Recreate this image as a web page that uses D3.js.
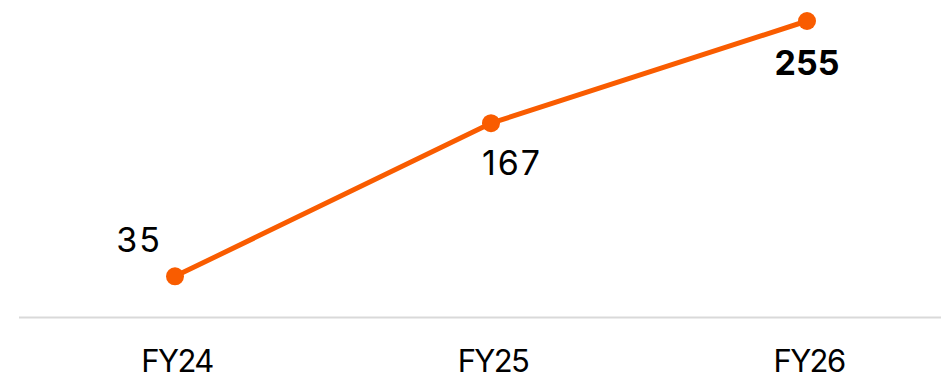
<!DOCTYPE html>
<html>
<head>
<meta charset="utf-8">
<script src="https://cdn.jsdelivr.net/npm/d3@7"></script>
<style>
  html, body { margin: 0; padding: 0; background: #fff; }
  svg { display: block; }
</style>
</head>
<body>
<svg id="chart" width="941" height="374"></svg>
<script>
// Fiscal years and values
const categories = ["FY24", "FY25", "FY26"];
const values = [35, 167, 255];
// Which value label is emphasised
const highlight = [false, false, true];

const width = 941, height = 374;
const orange = "#f95c00";
const font = "Inter, 'Noto Sans', sans-serif";

const svg = d3.select("#chart");

const x = d3.scalePoint()
  .domain(categories)
  .range([175, 807]);

const y = d3.scaleLinear()
  .domain([0, 255])
  .range([317, 21]);

// baseline
svg.append("line")
  .attr("x1", 19).attr("x2", width)
  .attr("y1", y(0) + 0.5).attr("y2", y(0) + 0.5)
  .attr("stroke", "#d9d9d9")
  .attr("stroke-width", 2);

// category labels
const xAxis = d3.axisBottom(x).tickSize(0).tickPadding(0);
const gx = svg.append("g")
  .attr("transform", `translate(0,${y(0)})`)
  .call(xAxis);
gx.select(".domain").remove();
gx.selectAll("text")
  .attr("dy", null)
  .attr("x", 1.5)
  .attr("y", 55)
  .attr("fill", "#000")
  .style("font-family", font)
  .style("font-size", "31px")
  .style("letter-spacing", "-1.6px");

// line
const data = categories.map((c, i) => ({ c, v: values[i], bold: highlight[i] }));
const line = d3.line().x(d => x(d.c)).y(d => y(d.v));

svg.append("path")
  .datum(data)
  .attr("d", line)
  .attr("fill", "none")
  .attr("stroke", orange)
  .attr("stroke-width", 5)
  .attr("stroke-linejoin", "round");

svg.selectAll("circle.pt")
  .data(data)
  .join("circle")
  .attr("class", "pt")
  .attr("cx", d => x(d.c))
  .attr("cy", d => y(d.v))
  .attr("r", 9)
  .attr("fill", orange);

// value labels, placed to stay clear of the line
const offsets = [[-36, -24], [21, 51.5], [0, 53.7]];
svg.selectAll("text.val")
  .data(data)
  .join("text")
  .attr("class", "val")
  .attr("x", (d, i) => x(d.c) + offsets[i][0])
  .attr("y", (d, i) => y(d.v) + offsets[i][1])
  .attr("text-anchor", "middle")
  .attr("fill", "#000")
  .style("font-family", font)
  .style("font-size", "34px")
  .style("letter-spacing", d => d.bold ? "0px" : "2px")
  .style("font-weight", d => d.bold ? 700 : 400)
  .text(d => d.v);
</script>
</body>
</html>
